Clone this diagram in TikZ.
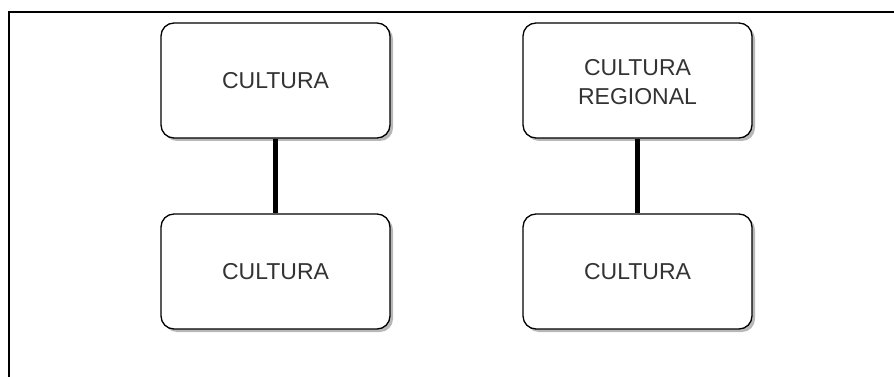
\documentclass[tikz,border=0pt]{standalone}
\usepackage{fontspec}
\setmainfont{Liberation Sans}
\usetikzlibrary{shadows}
\definecolor{labelgray}{HTML}{333333}
\definecolor{shadowgray}{HTML}{B8B8B8}
\begin{document}
\begin{tikzpicture}[x=1pt,y=-1pt,
  conceptbox/.style={draw=black, line width=1.3pt, fill=white,
    rounded corners=13pt, minimum width=229pt, minimum height=115pt,
    align=center, text=labelgray, font=\fontsize{23}{27.5}\selectfont,
    drop shadow={shadow xshift=3pt, shadow yshift=-3pt, fill=shadowgray, opacity=1}},
  link/.style={line width=5pt, black},
  frame/.style={line width=1.5pt, black}]
  \useasboundingbox (0,0) rectangle (894,377);
  % page frame (top and left edges)
  \coordinate (ftl) at (9,12);
  \coordinate (ftr) at (894,12);
  \coordinate (fbl) at (9,377);
  \draw[frame] (ftr) -- (ftl) -- (fbl);
  % concept boxes
  \node[conceptbox] (c1) at (275.5,80.5) {CULTURA};
  \node[conceptbox] (c2) at (275.5,271.5) {CULTURA};
  \node[conceptbox] (r1) at (637.5,80.5) {\raisebox{-4pt}[\height][\depth]{\begin{tabular}{@{}c@{}}CULTURA\\[1pt]REGIONAL\end{tabular}}};
  \node[conceptbox] (r2) at (637.5,271.5) {CULTURA};
  % vertical links
  \draw[link] (c1.south) -- (c2.north);
  \draw[link] (r1.south) -- (r2.north);
\end{tikzpicture}
\end{document}
